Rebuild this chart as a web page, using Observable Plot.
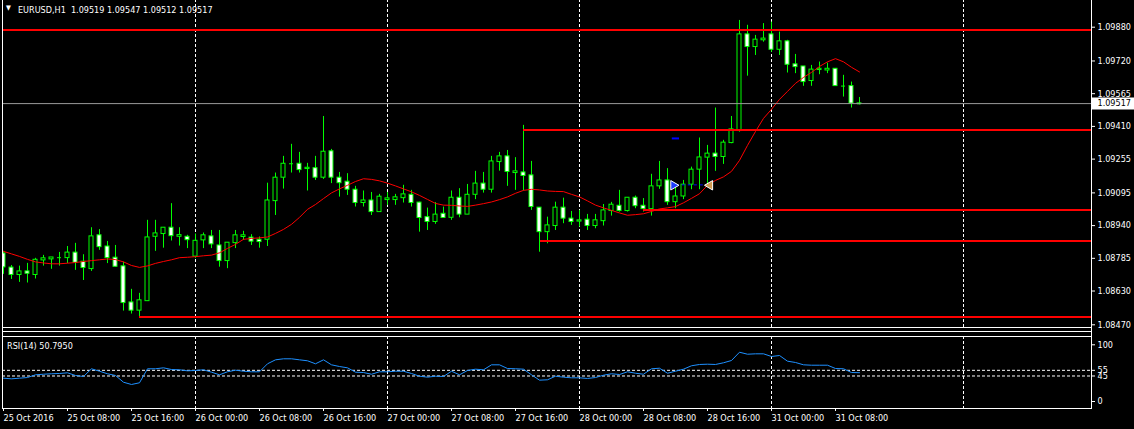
<!DOCTYPE html>
<html><head><meta charset="utf-8">
<script src="https://cdn.jsdelivr.net/npm/d3@7"></script>
<script src="https://cdn.jsdelivr.net/npm/@observablehq/plot@0.6"></script>
<style>
html,body{margin:0;padding:0;background:#000;}
#wrap{position:relative;width:1134px;height:429px;background:#000;overflow:hidden;font-family:"DejaVu Sans Condensed","Liberation Sans",sans-serif;color:#fff;}
#main{position:absolute;left:0;top:-1px;}
#rsi{position:absolute;left:0;top:329px;}
.lbl{position:absolute;font-size:9px;line-height:11px;white-space:pre;color:#fff;}
#sepA{position:absolute;left:2px;top:327px;width:1090px;height:10px;border-left:1px solid #fff;border-right:1px solid #fff;box-sizing:border-box;}
#sepB{position:absolute;left:2px;top:331px;width:1090px;height:1px;background:#fff;}
</style></head>
<body><div id="wrap">
<div id="sepA"></div><div id="sepB"></div>
<div id="main"></div><div id="rsi"></div>
<div class="lbl" id="tri" style="left:6px;top:5px;font-size:7px;line-height:7px;">▼</div>
<div class="lbl" id="title" style="left:18px;top:5px;"></div>
<div class="lbl" id="rsiLabel" style="left:7px;top:341px;"></div>
</div>
<script>
// ---- data (EURUSD H1, bars indexed from 25 Oct 2016 00:00) ----
const symbolTitle = "EURUSD,H1  1.09519 1.09547 1.09512 1.09517";
const rsiTitle = "RSI(14) 50.7950";

const open = [
1.08808,1.08741,1.08706,1.08723,1.08706,1.08775,1.08780,1.08788,1.08786,1.08812,
1.08769,1.08734,1.08894,1.08841,1.08788,1.08747,1.08576,1.08537,1.08582,1.08887,
1.08900,1.08930,1.08887,1.08887,1.08793,1.08870,1.08889,1.08846,1.08772,1.08857,
1.08886,1.08883,1.08873,1.08873,1.09056,1.09167,1.09233,1.09233,1.09208,1.09212,
1.09167,1.09292,1.09167,1.09148,1.09110,1.09047,1.09059,1.09004,1.09061,1.09061,
1.09070,1.09086,1.09049,1.08980,1.08957,1.08996,1.08977,1.09072,1.08992,1.09086,
1.09139,1.09110,1.09241,1.09268,1.09189,1.09192,1.09178,1.09025,1.08909,1.08938,
1.09025,1.08973,1.08959,1.08968,1.08938,1.08961,1.09009,1.09034,1.09009,1.09072,
1.09034,1.09018,1.09126,1.09154,1.09051,1.09078,1.09134,1.09205,1.09262,1.09281,
1.09265,1.09331,1.09388,1.09846,1.09786,1.09818,1.09846,1.09773,1.09813,1.09704,
1.09694,1.09625,1.09677,1.09675,1.09683,1.09601,1.09601,1.09519];

const high = [
1.08818,1.08751,1.08748,1.08761,1.08785,1.08799,1.08789,1.08813,1.08841,1.08856,
1.08802,1.08930,1.08921,1.08865,1.08846,1.08767,1.08638,1.08619,1.08965,1.08965,
1.08930,1.09044,1.08930,1.08894,1.08900,1.08905,1.08917,1.08917,1.08859,1.08917,
1.08913,1.08897,1.08886,1.09141,1.09189,1.09268,1.09325,1.09287,1.09235,1.09268,
1.09457,1.09301,1.09192,1.09186,1.09126,1.09104,1.09097,1.09088,1.09097,1.09088,
1.09131,1.09107,1.09051,1.09023,1.09049,1.09028,1.09104,1.09115,1.09135,1.09197,
1.09192,1.09268,1.09287,1.09296,1.09262,1.09415,1.09244,1.09025,1.08980,1.09051,
1.09070,1.09007,1.09012,1.08993,1.08993,1.09040,1.09050,1.09107,1.09072,1.09080,
1.09068,1.09183,1.09244,1.09210,1.09139,1.09154,1.09217,1.09355,1.09320,1.09497,
1.09344,1.09457,1.09912,1.09889,1.09841,1.09897,1.09904,1.09857,1.09818,1.09751,
1.09694,1.09699,1.09715,1.09710,1.09683,1.09652,1.09620,1.09547];

const low = [
1.08709,1.08685,1.08671,1.08668,1.08687,1.08748,1.08733,1.08748,1.08760,1.08728,
1.08680,1.08723,1.08823,1.08760,1.08743,1.08535,1.08521,1.08502,1.08582,1.08818,
1.08833,1.08867,1.08843,1.08831,1.08785,1.08831,1.08831,1.08743,1.08736,1.08831,
1.08870,1.08846,1.08833,1.08841,1.08988,1.09113,1.09189,1.09189,1.09104,1.09154,
1.09159,1.09139,1.09075,1.09083,1.09028,1.09028,1.08988,1.09004,1.09036,1.09036,
1.09047,1.09028,1.08909,1.08917,1.08946,1.08976,1.08965,1.08977,1.08992,1.09063,
1.09094,1.09094,1.09198,1.09126,1.09107,1.09104,1.09012,1.08814,1.08854,1.08917,
1.08949,1.08941,1.08933,1.08917,1.08925,1.08938,1.08985,1.09004,1.09004,1.09020,
1.09004,1.08985,1.09112,1.09036,1.09020,1.09063,1.09110,1.09110,1.09135,1.09197,
1.09230,1.09328,1.09383,1.09648,1.09746,1.09809,1.09761,1.09746,1.09663,1.09660,
1.09600,1.09600,1.09655,1.09660,1.09601,1.09549,1.09497,1.09512];

const close = [
1.08742,1.08706,1.08723,1.08712,1.08778,1.08785,1.08789,1.08788,1.08812,1.08764,
1.08739,1.08889,1.08838,1.08786,1.08745,1.08573,1.08537,1.08586,1.08884,1.08903,
1.08930,1.08890,1.08895,1.08871,1.08868,1.08894,1.08851,1.08772,1.08859,1.08894,
1.08894,1.08864,1.08862,1.09059,1.09167,1.09233,1.09233,1.09203,1.09214,1.09167,
1.09290,1.09167,1.09141,1.09110,1.09047,1.09059,1.09004,1.09077,1.09069,1.09074,
1.09088,1.09047,1.08976,1.08957,1.08992,1.08976,1.09072,1.08992,1.09086,1.09139,
1.09110,1.09244,1.09268,1.09194,1.09197,1.09175,1.09028,1.08909,1.08941,1.09025,
1.08973,1.08957,1.08965,1.08938,1.08965,1.09012,1.09039,1.09009,1.09072,1.09032,
1.09018,1.09126,1.09154,1.09051,1.09078,1.09134,1.09205,1.09263,1.09281,1.09265,
1.09333,1.09396,1.09846,1.09786,1.09821,1.09826,1.09773,1.09813,1.09702,1.09691,
1.09620,1.09679,1.09683,1.09683,1.09601,1.09601,1.09518,1.09517];

const movingAvg = [
1.08818,1.08806,1.08794,1.08780,1.08768,1.08763,1.08759,1.08759,1.08762,1.08765,
1.08770,1.08774,1.08778,1.08782,1.08779,1.08768,1.08751,1.08742,1.08749,1.08761,
1.08770,1.08778,1.08788,1.08790,1.08793,1.08797,1.08800,1.08811,1.08832,1.08851,
1.08875,1.08879,1.08882,1.08886,1.08903,1.08922,1.08946,1.08979,1.09017,1.09040,
1.09068,1.09095,1.09114,1.09131,1.09149,1.09162,1.09159,1.09152,1.09141,1.09128,
1.09114,1.09100,1.09083,1.09064,1.09045,1.09037,1.09036,1.09033,1.09031,1.09037,
1.09044,1.09052,1.09063,1.09076,1.09093,1.09107,1.09112,1.09109,1.09104,1.09102,
1.09101,1.09088,1.09076,1.09057,1.09037,1.09024,1.09012,1.09000,1.08989,1.08992,
1.08996,1.09007,1.09019,1.09024,1.09030,1.09048,1.09069,1.09091,1.09131,1.09154,
1.09171,1.09197,1.09249,1.09320,1.09386,1.09448,1.09491,1.09538,1.09576,1.09614,
1.09642,1.09666,1.09694,1.09716,1.09731,1.09716,1.09690,1.09668];

const rsi = [
41.1,40.0,41.1,42.3,47.1,48.1,48.9,49.4,50.6,45.9,
44.1,57.7,53.4,48.9,45.9,34.0,30.0,33.0,57.7,57.7,
59.4,56.4,55.9,54.1,54.7,55.9,51.7,47.1,52.4,55.2,
53.4,52.4,52.4,66.5,73.5,75.3,75.3,73.5,71.8,66.5,
73.5,64.7,61.7,59.4,51.7,51.1,48.1,52.4,52.4,53.4,
53.4,49.4,44.6,42.9,44.6,44.1,53.4,47.1,54.7,57.0,
55.9,64.7,64.7,58.2,57.7,57.0,47.1,37.6,38.3,44.6,
42.9,41.8,41.8,40.6,42.3,46.4,48.9,47.6,52.4,49.9,
48.1,57.7,58.7,49.9,53.4,57.0,63.0,65.3,65.8,65.3,
68.3,72.3,86.9,83.4,84.1,84.1,79.4,81.1,71.1,68.8,
64.7,64.0,64.0,64.0,58.2,57.7,51.1,50.8];

// horizontal level lines: price and bar index where each starts
const levelPrice = [1.09867, 1.09393, 1.09014, 1.08867, 1.08507];
const levelStart = [-0.125, 65, 80, 67.125, 17];
const lastPrice = 1.09518;
const lastPriceText = "1.09517";

const priceTicks = [1.09880, 1.09720, 1.09565, 1.09410, 1.09255, 1.09095, 1.08940, 1.08785, 1.08630, 1.08470];
const rsiTicks = [100, 55, 45, 0];
const rsiLevels = [55, 45];
const gridIdx = [24, 48, 72, 96, 120];
const timeTickIdx = [0, 8, 16, 24, 32, 40, 48, 56, 64, 72, 80, 88, 96, 104];
const timeTickLabels = ["25 Oct 2016","25 Oct 08:00","25 Oct 16:00","26 Oct 00:00","26 Oct 08:00","26 Oct 16:00",
  "27 Oct 00:00","27 Oct 08:00","27 Oct 16:00","28 Oct 00:00","28 Oct 08:00","28 Oct 16:00","31 Oct 00:00","31 Oct 08:00"];

// trade markers
const buyMark = [{i: 83.75, p: 1.09131}];
const closeMark = [{i: 88.3, p: 1.09131}];
const tradeLine = [{i1: 84.1, i2: 88.0, p: 1.09133}];
const stopDash = [{i1: 83.6, i2: 84.5, p: 1.09353}];
const openDash = [{i1: 83.4, i2: 84.4, p: 1.09131}];

// ---- drawing ----
const FONT = '"DejaVu Sans Condensed","Liberation Sans",sans-serif';
const X_DOMAIN = [-0.125, 136];
const bars = d3.range(close.length).map(i => ({i, o: open[i], h: high[i], l: low[i], c: close[i], ma: movingAvg[i], r: rsi[i]}));
const levels = levelPrice.map((p, k) => ({p, s: levelStart[k]}));
const tiny = bars.filter(d => Math.abs(d.o - d.c) < 0.00003);

const main = Plot.plot({
  width: 1134, height: 329,
  marginLeft: 2, marginRight: 43, marginTop: 0, marginBottom: 1,
  style: {background: "#000", color: "#fff", fontFamily: FONT, fontSize: "9px", overflow: "visible"},
  x: {domain: X_DOMAIN, axis: null},
  y: {domain: [1.08470, 1.09880], range: [325.3, 27.7], axis: null},
  marks: [
    Plot.axisY({anchor: "right", ticks: priceTicks, tickFormat: d => d.toFixed(5), tickSize: 3, tickPadding: 3, label: null, fill: "#fff", stroke: "#fff"}),
    Plot.ruleX(gridIdx, {stroke: "#fff", strokeDasharray: "3,2"}),
    Plot.ruleX(bars, {x: "i", y1: "l", y2: "h", stroke: "#00ff00", clip: true}),
    Plot.rect(bars, {x1: d => d.i - 0.25, x2: d => d.i + 0.25, y1: "o", y2: "c",
      fill: d => d.c < d.o ? "#ffffff" : "#000000", stroke: "#00ff00", clip: true}),
    Plot.ruleY(tiny, {y: "c", x1: d => d.i - 0.25, x2: d => d.i + 0.25, stroke: "#00ff00", clip: true}),
    Plot.line(bars, {x: "i", y: "ma", stroke: "#ff0000", strokeWidth: 1}),
    Plot.ruleY(levels, {y: "p", x1: "s", x2: X_DOMAIN[1], stroke: "#ff0000", strokeWidth: 2}),
    Plot.ruleY([lastPrice], {x1: X_DOMAIN[0], x2: 136.125, stroke: "#9a9a9a"}),
    Plot.ruleY(stopDash, {y: "p", x1: "i1", x2: "i2", stroke: "#0000ff", strokeWidth: 2}),
    Plot.ruleY(openDash, {y: "p", x1: "i1", x2: "i2", stroke: "#ff0000", strokeWidth: 1}),
    Plot.ruleY(tradeLine, {y: "p", x1: "i1", x2: "i2", stroke: "#0000ff", strokeDasharray: "3,3"}),
    Plot.dot(buyMark, {x: "i", y: "p", symbol: "triangle", rotate: 90, r: 3.5, fill: "#1e3cff", stroke: "#fff", strokeWidth: 1}),
    Plot.dot(closeMark, {x: "i", y: "p", symbol: "triangle", rotate: -90, r: 3.5, fill: "#d09a50", stroke: "#fff", strokeWidth: 1}),
    Plot.frame({stroke: "#fff"}),
    Plot.ruleY([lastPrice], {x1: 136.125, x2: 141.5, stroke: "#fff", strokeWidth: 12}),
    Plot.text([lastPriceText], {x: 136.75, y: lastPrice, text: d => d, textAnchor: "start", fill: "#000", fontSize: 9})
  ]
});
document.getElementById("main").appendChild(main);

const tickMap = new Map(timeTickIdx.map((t, k) => [t, timeTickLabels[k]]));
const rsiPlot = Plot.plot({
  width: 1134, height: 100,
  marginLeft: 2, marginRight: 43, marginTop: 7, marginBottom: 21,
  style: {background: "transparent", color: "#fff", fontFamily: FONT, fontSize: "9px", overflow: "visible"},
  x: {domain: X_DOMAIN, axis: null},
  y: {domain: [0, 100], range: [72, 15.3], axis: null},
  marks: [
    Plot.ruleX(gridIdx, {stroke: "#fff", strokeDasharray: "3,2"}),
    Plot.ruleY(rsiLevels, {stroke: "#fff", strokeDasharray: "3,2"}),
    Plot.line(bars, {x: "i", y: "r", stroke: "#1e90ff", strokeWidth: 1}),
    Plot.frame({stroke: "#fff"}),
    Plot.axisY({anchor: "right", ticks: rsiTicks, tickFormat: d => String(d), tickSize: 3, tickPadding: 3, label: null}),
    Plot.axisX({anchor: "bottom", ticks: timeTickIdx, tickFormat: d => tickMap.get(d), textAnchor: "start", tickSize: 3, tickPadding: 3, label: null})
  ]
});
document.getElementById("rsi").appendChild(rsiPlot);

document.getElementById("title").textContent = symbolTitle;
document.getElementById("rsiLabel").textContent = rsiTitle;
</script>
</body></html>
